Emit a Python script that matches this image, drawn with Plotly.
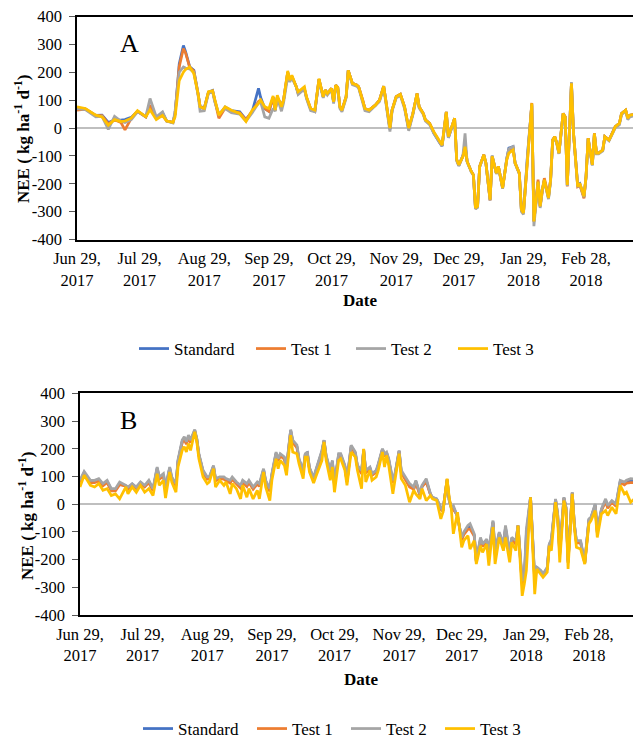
import pandas as pd
import plotly.graph_objects as go

# ---------------- data ----------------
start = pd.Timestamp("2017-06-29")
series_names = ["Standard", "Test 1", "Test 2", "Test 3"]
series_colors = ["#4472C4", "#ED7D31", "#A5A5A5", "#FFC000"]

tick_dates = ["2017-06-29", "2017-07-29", "2017-08-29", "2017-09-29", "2017-10-29",
              "2017-11-29", "2017-12-29", "2018-01-29", "2018-02-28"]
tick_labels = ["Jun 29,<br>2017", "Jul 29,<br>2017", "Aug 29,<br>2017", "Sep 29,<br>2017",
               "Oct 29,<br>2017", "Nov 29,<br>2017", "Dec 29,<br>2017", "Jan 29,<br>2018",
               "Feb 28,<br>2018"]
y_ticks = [-400, -300, -200, -100, 0, 100, 200, 300, 400]
y_labels = ["-400", "-300", "-200", "-100", "0", "100", "200", "300", "400"]

# Panel A: day offsets from Jun 29, 2017
days_A = [0, 4, 9, 12, 15, 18, 21, 23, 26, 29, 33, 35, 38, 41, 43, 46, 47, 49, 51, 52,
          54, 56, 58, 59, 61, 63, 65, 66, 68, 71, 74, 78, 81, 84, 87, 88, 90, 92, 94, 95,
          96, 98, 99, 101, 102, 103, 105, 106, 109, 110, 112, 114, 116,
          118, 119, 120, 122, 123, 124, 125, 126, 127, 129, 130, 132, 134, 135, 137, 138, 140, 142, 143, 145,
          147, 148, 150, 151, 153, 155, 157, 159, 161, 163, 164, 166, 167, 169, 171, 174, 175, 177, 178, 181,
          182, 183, 185, 186, 187, 189, 190, 191, 192, 193, 195, 196, 198, 199, 201, 202, 204, 206, 207, 209,
          210, 212, 213, 214, 216, 218, 219, 221, 222, 223, 224, 226, 227, 228, 229, 230, 231, 233, 234, 235,
          237, 238, 240, 241, 243, 244, 245, 247, 248, 249, 250, 252, 253, 255, 257, 258, 260, 261, 263, 264,
          265, 268]

standard_A = [68, 68, 45, 46, 20, 28, 28, 30, 38, 60, 40, 80, 35, 55, 25, 20, 50, 230, 296, 275,
              220, 207, 124, 78, 72, 128, 135, 100, 45, 75, 62, 58, 30, 60, 142, 110, 70, 60, 110, 64,
              110, 80, 100, 200, 170, 185, 150, 125, 140, 110, 68, 60, 175,
              112, 136, 124, 142, 94, 154, 145, 76, 64, 112, 207, 160, 154, 148, 100, 70, 64, 76, 82, 100,
              150, 100, -5, 64, 112, 121, 76, -5, 52, 124, 76, 52, 29, 17, -18, -55, -65, 58, -35, 35,
              -114, -135, -100, -60, -120, -156, -168, -287, -281, -138, -96, -126, -257, -102, -162, -138, -215, -110, -72, -67,
              -126, -162, -293, -305, -90, 85, -335, -192, -281, -221, -186, -251, -186, -43, -31, -55, -90, 52, 40, -205,
              160, -19, -205, -200, -248, -174, -37, -132, -19, -90, -90, -79, -31, -43, -13, 5, 17, 52, 64, 35,
              46, 50]
test1_A = [64, 68, 44, 44, 15, 30, 20, -7, 35, 60, 40, 82, 35, 45, 25, 20, 50, 220, 285, 270,
           218, 205, 124, 76, 68, 128, 133, 100, 35, 72, 60, 55, 30, 60, 95, 100, 70, 60, 110, 64,
           110, 80, 100, 200, 170, 185, 150, 125, 140, 110, 68, 60, 175,
           112, 136, 124, 142, 94, 154, 145, 76, 64, 112, 207, 160, 154, 148, 100, 70, 64, 76, 82, 100,
           150, 100, -3, 64, 112, 121, 76, -3, 52, 124, 76, 52, 29, 17, -15, -52, -63, 58, -33, 35,
           -114, -134, -100, -62, -120, -156, -168, -290, -281, -138, -96, -126, -260, -102, -162, -138, -215, -112, -80, -72,
           -126, -162, -293, -305, -90, 90, -335, -185, -281, -221, -180, -245, -186, -43, -31, -55, -90, 52, 40, -210,
           160, -19, -210, -205, -252, -174, -37, -132, -19, -90, -90, -79, -31, -43, -13, 5, 17, 52, 64, 35,
           46, 50]
test2_A = [70, 66, 40, 42, -5, 42, 25, 20, 30, 58, 42, 106, 40, 58, 25, 18, 60, 200, 219, 215,
           212, 200, 120, 60, 62, 125, 130, 95, 50, 70, 55, 50, 25, 55, 90, 95, 40, 35, 70, 60,
           110, 60, 90, 185, 165, 180, 150, 120, 140, 105, 62, 58, 170,
           108, 130, 118, 138, 88, 148, 140, 70, 58, 108, 205, 155, 150, 144, 95, 62, 58, 72, 78, 95,
           145, 95, -13, 60, 108, 116, 70, -10, 48, 120, 72, 48, 25, 12, -18, -55, -65, 50, -35, 30,
           -118, -136, -98, -19, -122, -158, -170, -290, -285, -140, -100, -128, -260, -98, -165, -140, -218, -108, -75, -67,
           -128, -165, -300, -310, -95, 80, -352, -195, -287, -225, -190, -255, -190, -48, -35, -58, -93, 48, 36, -208,
           165, -22, -212, -200, -248, -178, -40, -135, -22, -93, -93, -82, -34, -46, -18, 0, 12, 48, 60, 30,
           40, 45]
test3_A = [76, 70, 46, 40, 10, 30, 23, 25, 35, 62, 40, 65, 30, 45, 25, 20, 40, 170, 200, 210,
           219, 195, 124, 76, 70, 130, 133, 100, 46, 76, 64, 52, 23, 64, 88, 100, 76, 70, 115, 64,
           118, 76, 100, 205, 171, 189, 154, 130, 148, 112, 70, 64, 177,
           112, 136, 124, 142, 94, 154, 145, 76, 64, 112, 207, 160, 154, 148, 100, 70, 64, 76, 82, 100,
           150, 100, 0, 64, 112, 121, 76, 0, 52, 124, 76, 52, 29, 17, -13, -49, -61, 58, -31, 35,
           -114, -132, -102, -67, -120, -156, -168, -287, -281, -138, -96, -126, -257, -102, -162, -138, -215, -114, -90, -79,
           -126, -162, -293, -305, -90, 88, -335, -192, -281, -221, -186, -251, -186, -43, -31, -55, -90, 52, 40, -204,
           160, -19, -210, -198, -245, -174, -37, -132, -19, -90, -90, -79, -31, -43, -13, 5, 17, 52, 64, 35,
           46, 50]

# Panel B: day offsets from Jun 29, 2017
days_B = [0, 2, 5, 7, 9, 11, 13, 15, 17, 19, 22, 23, 25, 27, 29, 31, 33, 35, 37, 38,
          40, 41, 43, 44, 46, 47, 49, 50, 51, 52, 53, 55, 56, 57, 59, 61, 62, 64, 65, 67,
          69, 70, 72, 73, 75, 77, 78, 80, 81, 83, 85, 86, 88, 89, 91, 92, 94, 95, 96, 98,
          99, 101, 102, 104, 105, 107, 108, 109, 110, 112, 113, 116, 117, 118, 120, 121, 122, 124, 125, 127,
          128, 130, 132, 133, 135, 136, 137, 139, 140, 142, 143, 145, 146, 147, 148, 150, 151, 153, 154, 156,
          158, 160, 161, 163, 164, 166, 168, 169, 171, 173, 174, 176, 177, 178, 179, 181, 183, 184, 186, 187,
          189, 190, 192, 193, 195, 196, 198, 199, 201, 203, 204, 206, 207, 209, 210, 212, 213, 214, 216, 218,
          219, 221, 222, 224, 225, 226, 228, 229, 230, 232, 233, 234, 236, 237, 238, 240, 242, 244, 245, 247,
          248, 250, 252, 253, 255, 257, 259, 261, 262, 264, 266]

standard_B = [82, 114, 82, 82, 88, 70, 82, 52, 52, 74, 66, 58, 72, 58, 77, 64, 82, 52, 130, 94,
              106, 56, 130, 94, 70, 156, 226, 238, 220, 244, 226, 266, 234, 178, 118, 94, 95, 137, 88, 95,
              94, 88, 80, 94, 76, 62, 82, 68, 82, 58, 76, 68, 125, 82, 50, 106, 184, 159, 178, 165,
              130, 266, 226, 208, 160, 118, 180, 185, 130, 92, 118, 190, 230, 172, 118, 154, 70, 178, 178, 136,
              82, 209, 184, 136, 116, 196, 118, 131, 106, 118, 142, 198, 176, 185, 160, 80, 106, 192, 118, 94,
              68, 56, 82, 34, 65, 86, 36, 24, 18, -15, -24, 88, 15, -12, -12, -44, -125, -106, -84, -80,
              -112, -206, -126, -148, -130, -175, -63, -175, -105, -148, -85, -180, -124, -138, -77, -285, -268, -110, 25, -272,
              -228, -242, -254, -232, -145, -132, 17, -38, -175, 23, -13, -208, 42, -73, -136, -136, -212, -56, -49, -3,
              -100, -20, 14, -10, 10, -3, 82, 76, 82, 86, 84]
test1_B = [78, 110, 78, 78, 84, 66, 78, 48, 48, 70, 65, 54, 70, 56, 74, 62, 78, 48, 126, 90,
           102, 52, 126, 90, 66, 152, 222, 234, 216, 240, 222, 265, 232, 176, 114, 90, 92, 135, 84, 92,
           90, 86, 76, 90, 72, 58, 78, 64, 78, 54, 72, 64, 122, 78, 46, 102, 180, 155, 175, 162,
           126, 263, 222, 204, 157, 114, 178, 182, 128, 90, 114, 186, 229, 170, 114, 150, 66, 174, 176, 134,
           80, 205, 182, 134, 110, 198, 112, 129, 104, 115, 138, 196, 172, 183, 157, 76, 102, 190, 114, 90,
           62, 54, 78, 32, 63, 80, 35, 23, 17, -20, -25, 90, 17, -13, -20, -40, -130, -110, -90, -90,
           -115, -208, -130, -152, -134, -182, -67, -182, -108, -152, -92, -186, -128, -145, -77, -293, -272, -130, 25, -280,
           -230, -244, -256, -235, -146, -138, 15, -40, -182, 21, -15, -212, 41, -75, -140, -140, -213, -59, -51, -7,
           -104, -23, 10, -15, 7, -8, 78, 70, 76, 78, 78]
test2_B = [86, 118, 86, 86, 92, 74, 86, 56, 56, 80, 68, 62, 74, 62, 80, 68, 86, 56, 134, 98,
           110, 62, 134, 98, 74, 160, 231, 243, 225, 249, 231, 269, 237, 182, 122, 98, 98, 140, 92, 98,
           98, 92, 86, 98, 80, 68, 86, 74, 86, 62, 80, 74, 128, 86, 56, 110, 188, 164, 182, 170,
           134, 269, 231, 213, 164, 122, 182, 188, 132, 95, 122, 194, 231, 176, 122, 158, 74, 182, 182, 140,
           86, 213, 188, 140, 122, 194, 122, 134, 110, 122, 146, 200, 182, 188, 164, 86, 110, 194, 122, 98,
           74, 62, 86, 37, 68, 92, 37, 25, 19, -11, -23, 86, 13, -10, -5, -47, -120, -101, -77, -71,
           -107, -204, -120, -144, -126, -168, -59, -168, -101, -144, -77, -174, -120, -132, -77, -277, -264, -90, 25, -264,
           -228, -240, -252, -228, -144, -126, 19, -35, -168, 25, -11, -204, 43, -71, -132, -132, -210, -53, -47, 1,
           -95, -17, 19, -5, 13, 1, 86, 80, 86, 92, 90]
test3_B = [62, 104, 68, 62, 74, 50, 56, 31, 37, 19, 62, 37, 62, 43, 68, 43, 56, 31, 110, 68,
           86, 22, 116, 80, 43, 134, 194, 207, 188, 219, 194, 261, 225, 164, 98, 74, 80, 128, 62, 86,
           68, 80, 37, 74, 56, 19, 68, 25, 56, 19, 50, 19, 116, 62, 13, 86, 164, 128, 158, 140,
           104, 249, 188, 182, 146, 92, 170, 170, 116, 76, 98, 158, 225, 158, 86, 134, 43, 158, 164, 122,
           68, 188, 170, 122, 56, 200, 80, 122, 86, 98, 122, 188, 134, 176, 140, 37, 86, 182, 92, 68,
           7, 50, 37, 19, 56, 13, 31, 19, 13, -53, -29, 92, 25, -17, -107, -29, -156, -132, -114, -162,
           -132, -216, -150, -174, -144, -222, -83, -216, -120, -168, -120, -210, -138, -168, -77, -331, -289, -240, 25, -325,
           -234, -252, -264, -246, -150, -168, 7, -53, -210, 13, -23, -234, 37, -83, -156, -162, -216, -71, -59, -23,
           -120, -35, -23, -41, -11, -35, 68, 37, 43, 7, 20]

legend_widths_A = [72, 55, 57, 57]
legend_widths_B = [69, 49, 49, 49]

# ---------------- figure ----------------
W, H = 633, 738
FONT = "Liberation Serif"
FS = 17
TICK_FS = 16.5

dates_A = start + pd.to_timedelta(days_A, unit="D")
dates_B = start + pd.to_timedelta(days_B, unit="D")

fig = go.Figure()
for name, col, vals, lw in zip(series_names, series_colors,
                               [standard_A, test1_A, test2_A, test3_A], legend_widths_A):
    fig.add_trace(go.Scatter(x=dates_A, y=vals, mode="lines", name=name,
                             line=dict(color=col, width=2.75),
                             xaxis="x", yaxis="y", legend="legend", legendwidth=lw))
for name, col, vals, lw in zip(series_names, series_colors,
                               [standard_B, test1_B, test2_B, test3_B], legend_widths_B):
    fig.add_trace(go.Scatter(x=dates_B, y=vals, mode="lines", name=name,
                             line=dict(color=col, width=2.75),
                             xaxis="x2", yaxis="y2", legend="legend2", legendwidth=lw))


def px_x(v):
    return v / W


def px_y(v):
    return (H - v) / H


xcommon = dict(type="date", tickmode="array", tickvals=tick_dates, ticktext=tick_labels,
               showgrid=False, zeroline=False, showline=True, linecolor="black", linewidth=1.5,
               mirror=True, ticks="", automargin=False, ticklabelstandoff=3,
               tickfont=dict(family=FONT, size=TICK_FS, color="black"))
ycommon = dict(range=[-400, 400], tickmode="array", tickvals=y_ticks, ticktext=y_labels,
               showgrid=False, zeroline=True, zerolinecolor="#BFBFBF", zerolinewidth=1.5,
               showline=True, linecolor="black", linewidth=1.5, ticks="outside", ticklen=6,
               tickcolor="#595959", tickwidth=1, ticklabelstandoff=4, automargin=False,
               tickfont=dict(family=FONT, size=TICK_FS, color="black"))

fig.update_layout(
    template="none",
    width=W, height=H,
    margin=dict(l=0, r=0, t=0, b=0, pad=0, autoexpand=False),
    paper_bgcolor="white", plot_bgcolor="white",
    font=dict(family=FONT, size=FS, color="black"),
    xaxis=dict(xcommon, domain=[px_x(77), 1], anchor="y",
               range=["2017-06-29", "2018-03-22 12:00"]),
    yaxis=dict(ycommon, domain=[px_y(239.5), px_y(16.5)], anchor="x"),
    xaxis2=dict(xcommon, domain=[px_x(80), 1], anchor="y2",
                range=["2017-06-29", "2018-03-21 03:00"]),
    yaxis2=dict(ycommon, domain=[px_y(615), px_y(393.3)], anchor="x2"),
    legend=dict(orientation="h", x=px_x(134), xanchor="left", y=px_y(349), yanchor="middle",
                font=dict(family=FONT, size=FS, color="black"), bgcolor="rgba(0,0,0,0)"),
    legend2=dict(orientation="h", x=px_x(138), xanchor="left", y=px_y(729), yanchor="middle",
                 font=dict(family=FONT, size=FS, color="black"), bgcolor="rgba(0,0,0,0)"),
    showlegend=True,
)

ytitle = "<b>NEE ( kg ha<sup>-1</sup> d<sup>-1</sup>)</b>"
annotations = [
    dict(text="A", x=px_x(129), y=px_y(44), font=dict(family=FONT, size=26, color="black")),
    dict(text="B", x=px_x(128), y=px_y(420), font=dict(family=FONT, size=26, color="black")),
    dict(text=ytitle, x=px_x(22), y=px_y(139), textangle=-90,
         font=dict(family=FONT, size=FS, color="black")),
    dict(text=ytitle, x=px_x(26), y=px_y(516), textangle=-90,
         font=dict(family=FONT, size=FS, color="black")),
    dict(text="<b>Date</b>", x=px_x(360), y=px_y(300),
         font=dict(family=FONT, size=FS, color="black")),
    dict(text="<b>Date</b>", x=px_x(361), y=px_y(679),
         font=dict(family=FONT, size=FS, color="black")),
]
for a in annotations:
    a.update(xref="paper", yref="paper", xanchor="center", yanchor="middle", showarrow=False)
fig.update_layout(annotations=annotations)

fig.write_html("out.html")
